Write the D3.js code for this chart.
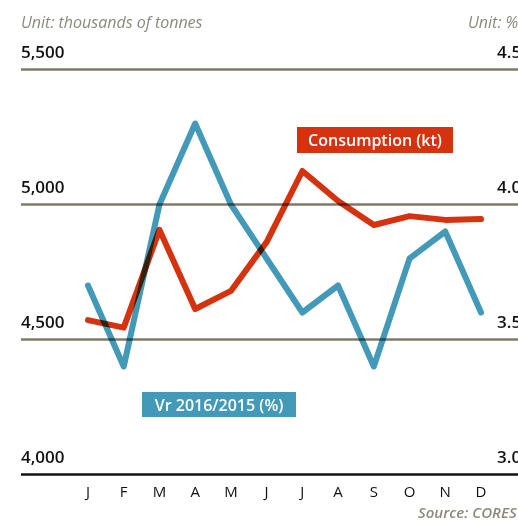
<!DOCTYPE html>
<html>
<head>
<meta charset="utf-8">
<script src="https://cdn.jsdelivr.net/npm/d3@7"></script>
<style>
  body { margin: 0; background: #fff; }
  svg { display: block; font-family: "Open Sans", sans-serif; }
</style>
</head>
<body>
<svg id="chart" width="518" height="523"></svg>
<script>
// Monthly data
const months = ["J", "F", "M", "A", "M", "J", "J", "A", "S", "O", "N", "D"];
const consumption = [4572, 4544, 4906, 4613, 4680, 4861, 5124, 5013, 4924, 4957, 4943, 4946];
const variation = [3.7, 3.4, 4.0, 4.3, 4.0, 3.8, 3.6, 3.7, 3.4, 3.8, 3.9, 3.6];
const leftTicks = [4000, 4500, 5000, 5500];
const rightTicks = [3.0, 3.5, 4.0, 4.5];

const svg = d3.select("#chart");
const red = "#d5330f", blue = "#4399b8", grid = "#7f7a6b", grey = "#8b897c";

const x = d3.scalePoint().domain(d3.range(12)).range([88, 481]);
const yL = d3.scaleLinear().domain([4000, 5500]).range([474.5, 69.5]);
const yR = d3.scaleLinear().domain([3.0, 4.5]).range([474.5, 69.5]);

// units
svg.append("text").attr("x", 21).attr("y", 28)
  .attr("font-size", 16).attr("font-style", "italic").attr("fill", grey)
  .text("Unit: thousands of tonnes");
svg.append("text").attr("x", 468).attr("y", 28)
  .attr("font-size", 16).attr("font-style", "italic").attr("fill", grey)
  .text("Unit: %");

// gridlines + labels on both sides
svg.append("g").selectAll("line").data(leftTicks).join("line")
  .attr("x1", 21).attr("x2", 518)
  .attr("y1", d => yL(d)).attr("y2", d => yL(d))
  .attr("stroke", d => d === 4000 ? "#111" : grid).attr("stroke-width", 2.5);

svg.append("g").selectAll("text").data(leftTicks).join("text")
  .attr("x", 21).attr("y", d => yL(d) - 12)
  .attr("font-size", 17).attr("font-weight", 600).attr("fill", "#111")
  .text(d => d3.format(",")(d));

svg.append("g").selectAll("text").data(rightTicks).join("text")
  .attr("x", 497).attr("y", d => yR(d) - 12)
  .attr("font-size", 17).attr("font-weight", 600).attr("fill", "#111")
  .text(d => d.toFixed(1));

// month axis
svg.append("g").selectAll("text").data(months).join("text")
  .attr("x", (d, i) => x(i)).attr("y", 497)
  .attr("text-anchor", "middle").attr("font-size", 15).attr("fill", "#111")
  .text(d => d);

// lines
const lineL = d3.line().x((d, i) => x(i)).y(d => yL(d));
const lineR = d3.line().x((d, i) => x(i)).y(d => yR(d));

const lines = svg.append("g").style("mix-blend-mode", "multiply");
lines.append("path").attr("d", lineR(variation))
  .attr("fill", "none").attr("stroke", blue).attr("stroke-width", 6)
  .attr("stroke-linecap", "round").attr("stroke-linejoin", "round")
  .style("mix-blend-mode", "multiply");
lines.append("path").attr("d", lineL(consumption))
  .attr("fill", "none").attr("stroke", red).attr("stroke-width", 6)
  .attr("stroke-linecap", "round").attr("stroke-linejoin", "round")
  .style("mix-blend-mode", "multiply");

// legend boxes
function tag(px, py, w, h, fill, label) {
  svg.append("rect").attr("x", px).attr("y", py).attr("width", w).attr("height", h).attr("fill", fill);
  svg.append("text").attr("x", px + w / 2).attr("y", py + h / 2 + 6)
    .attr("text-anchor", "middle").attr("font-size", 16).attr("font-weight", 600)
    .attr("fill", "#fff").text(label);
}
tag(297, 127, 156, 26, red, "Consumption (kt)");
tag(142, 392, 154, 25, blue, "Vr 2016/2015 (%)");

// source
svg.append("text").attr("x", 418).attr("y", 518)
  .attr("font-size", 15).attr("font-style", "italic").attr("font-weight", 600).attr("fill", grey)
  .text("Source: CORES");
</script>
</body>
</html>
